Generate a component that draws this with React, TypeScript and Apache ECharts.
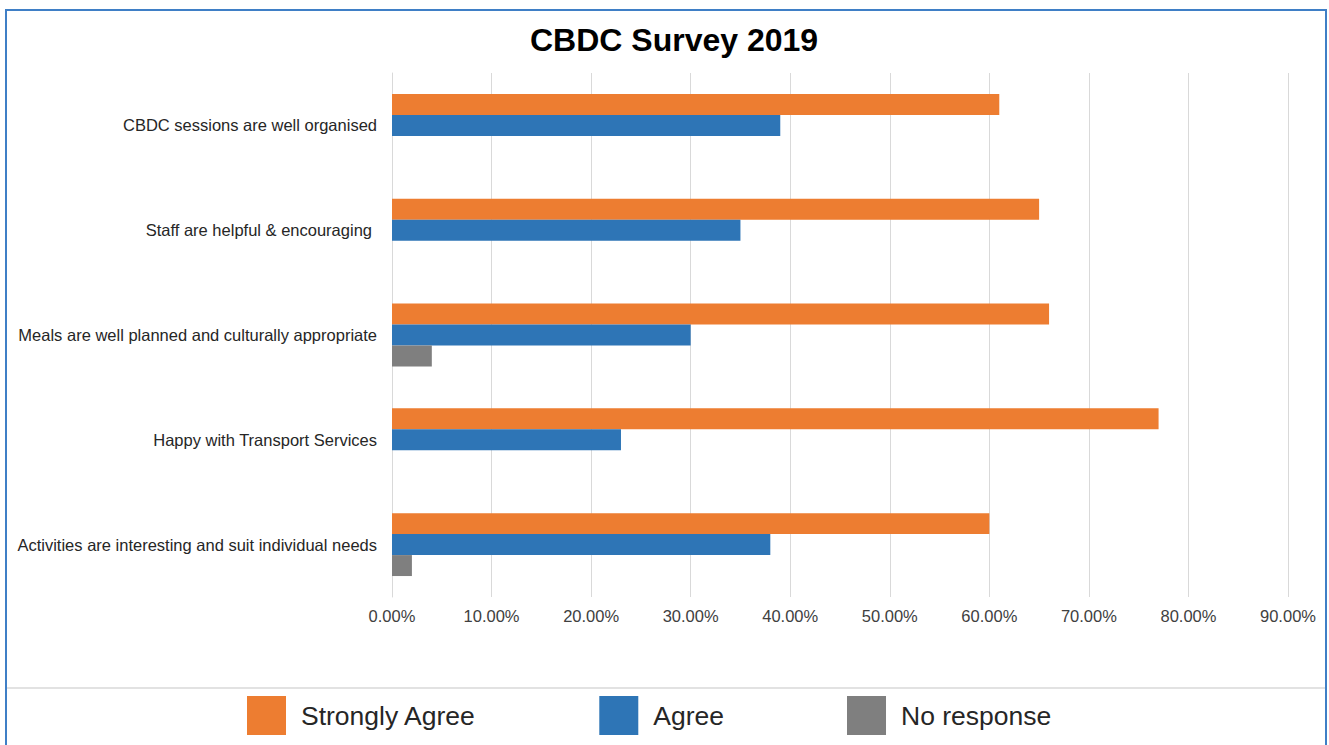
import React, { useEffect, useRef } from "react";
import * as echarts from "echarts";

const categories = [
  "CBDC sessions are well organised",
  "Staff are helpful & encouraging ",
  "Meals are well planned and culturally appropriate",
  "Happy with Transport Services",
  "Activities are interesting and suit individual needs",
];
const stronglyAgree = [0.61, 0.65, 0.66, 0.77, 0.6];
const agree = [0.39, 0.35, 0.3, 0.23, 0.38];
const noResponse = [0, 0, 0.04, 0, 0.02];
const seriesNames = ["Strongly Agree", "Agree", "No response"];
const colors = ["#ED7D31", "#2E75B6", "#7F7F7F"];

export default function App() {
  const ref = useRef<HTMLDivElement>(null);
  useEffect(() => {
    if (!ref.current) return;
    const chart = echarts.init(ref.current, null, { renderer: "svg" });
    const font = "'Liberation Sans', Arial, sans-serif";
    const mk = (name: string, data: number[], color: string) => ({
      name,
      type: "bar",
      data,
      barGap: "0%",
      barCategoryGap: "40%",
      itemStyle: { color },
    });
    chart.setOption({
      animation: false,
      textStyle: { fontFamily: font },
      title: {
        text: "CBDC Survey 2019",
        left: 525,
        top: 19,
        textStyle: { fontSize: 32, fontWeight: "bold", color: "#000", fontFamily: font },
      },
      legend: {
        left: 242,
        top: 691,
        itemWidth: 39,
        itemHeight: 39,
        itemGap: 123,
        icon: "rect",
        data: seriesNames,
        textStyle: { fontSize: 26.5, color: "#262626", fontFamily: font, padding: [0, 0, 0, 10] },
      },
      grid: { left: 392, right: 41, top: 73, bottom: 148 },
      xAxis: {
        type: "value",
        min: 0,
        max: 0.9,
        interval: 0.1,
        axisLine: { show: false },
        axisTick: { show: false },
        splitLine: { lineStyle: { color: "#d9d9d9", width: 1 } },
        axisLabel: {
          fontSize: 16.5,
          color: "#404040",
          margin: 10,
          fontFamily: font,
          formatter: (v: number) => (v * 100).toFixed(2) + "%",
        },
      },
      yAxis: {
        type: "category",
        data: categories,
        inverse: true,
        axisLine: { show: true, lineStyle: { color: "#d9d9d9" } },
        axisTick: { show: false },
        axisLabel: {
          fontSize: 16.5,
          color: "#262626",
          margin: 15,
          fontFamily: font,
          formatter: (v: string) => (v.endsWith(" ") ? "{p|" + v.trim() + "}" : v),
          rich: { p: { fontSize: 16.5, color: "#262626", fontFamily: font, padding: [0, 5, 0, 0] } },
        },
      },
      graphic: [
        {
          type: "rect",
          shape: { x: 6, y: 10, width: 1320, height: 780 },
          style: { fill: "none", stroke: "#3f7fc6", lineWidth: 2 },
          silent: true,
        },
        {
          type: "line",
          shape: { x1: 7, y1: 688, x2: 1325, y2: 688 },
          style: { stroke: "#d9d9d9", lineWidth: 1.5 },
          silent: true,
        },
      ],
      series: [
        mk(seriesNames[0], stronglyAgree, colors[0]),
        mk(seriesNames[1], agree, colors[1]),
        mk(seriesNames[2], noResponse, colors[2]),
      ],
    });
    return () => chart.dispose();
  }, []);
  return (
    <div
      ref={ref}
      style={{ position: "fixed", left: 0, top: 0, width: 1329, height: 745, background: "#fff" }}
    />
  );
}
